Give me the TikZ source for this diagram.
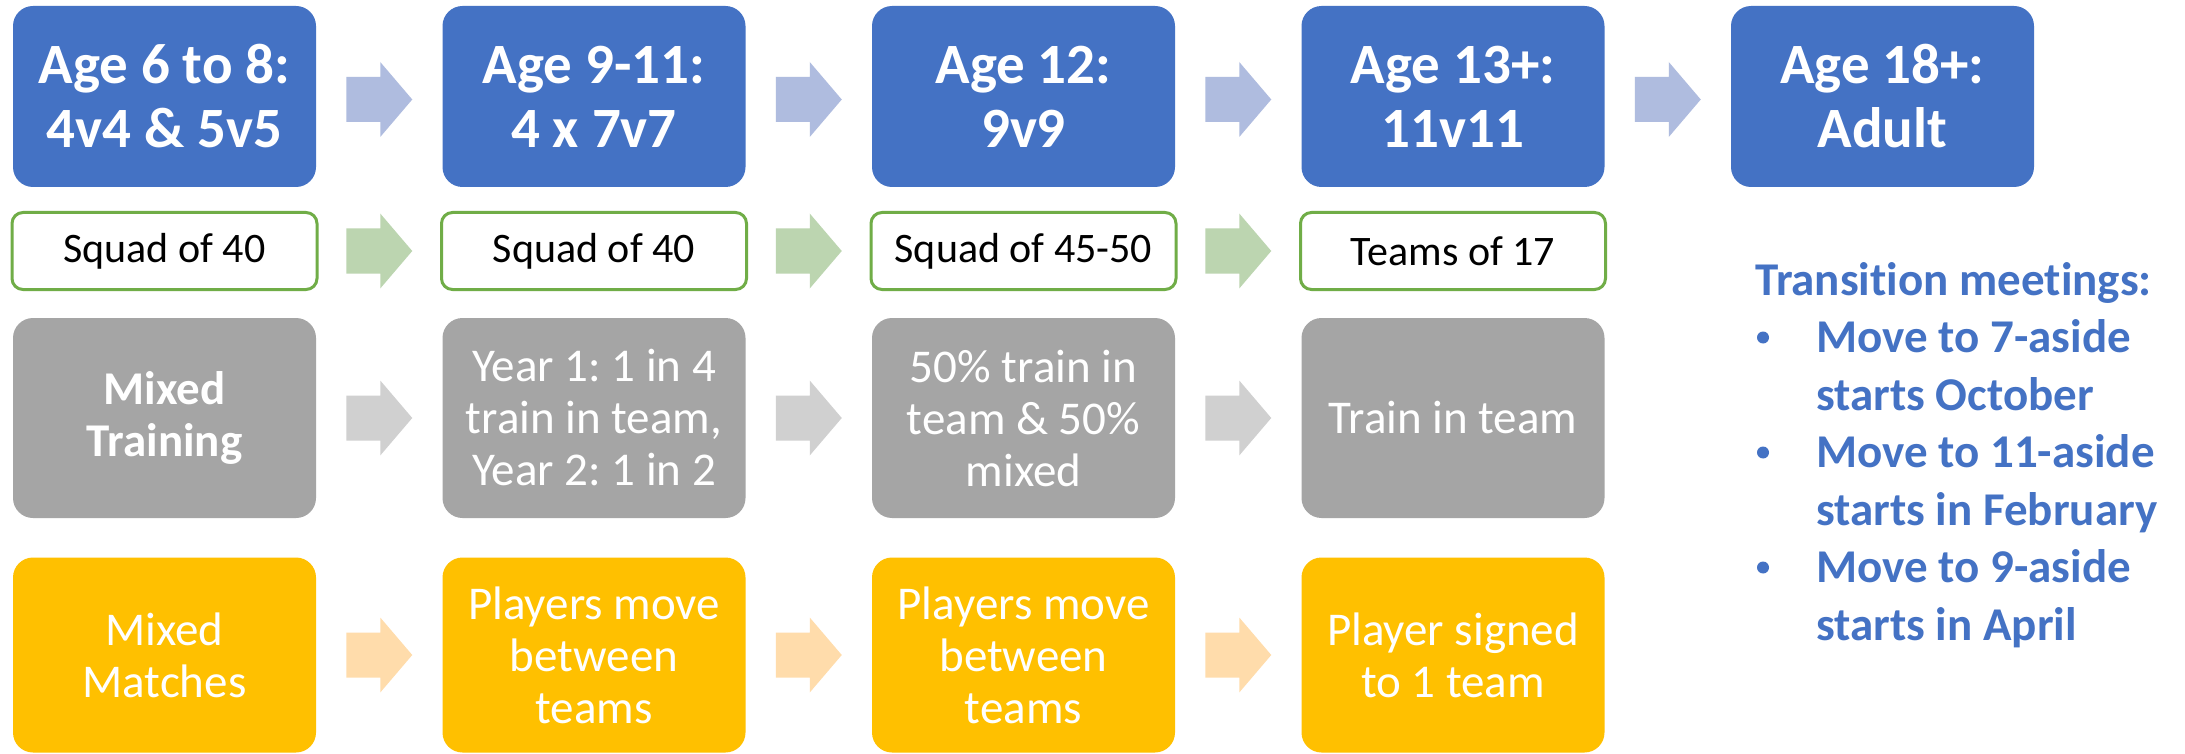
\documentclass[tikz,border=0pt]{standalone}
\usepackage{fontspec}
\setmainfont{Carlito}[Ligatures=NoCommon]
\usetikzlibrary{calc}
\frenchspacing

\definecolor{ageblue}{HTML}{4472C4}
\definecolor{agearrow}{HTML}{AFBCDF}
\definecolor{squadgreen}{HTML}{70AD47}
\definecolor{squadarrow}{HTML}{BCD5B0}
\definecolor{traingrey}{HTML}{A5A5A5}
\definecolor{trainarrow}{HTML}{D0D0D0}
\definecolor{matchgold}{HTML}{FFC000}
\definecolor{matcharrow}{HTML}{FFDCAB}

\tikzset{
  agebox/.style={rectangle, rounded corners=20pt, fill=ageblue, text=white,
    minimum width=303pt, minimum height=181pt, inner sep=0pt, align=center,
    font=\fontsize{57}{64}\selectfont\bfseries},
  squadbox/.style={rectangle, rounded corners=11pt, draw=squadgreen, line width=3pt,
    fill=white, text=black, minimum width=305pt, minimum height=77pt, inner sep=0pt,
    align=center, font=\fontsize{42}{50}\selectfont},
  trainbox/.style={rectangle, rounded corners=20pt, fill=traingrey, text=white,
    minimum width=303pt, minimum height=200pt, inner sep=0pt, align=center,
    font=\fontsize{47}{52}\selectfont},
  matchbox/.style={rectangle, rounded corners=20pt, fill=matchgold, text=white,
    minimum width=303pt, minimum height=195pt, inner sep=0pt, align=center,
    font=\fontsize{47}{52}\selectfont},
  noteline/.style={anchor=base west, inner sep=0pt, text=ageblue,
    font=\fontsize{47}{57}\selectfont\bfseries},
  notebullet/.style={circle, fill=ageblue, inner sep=0pt, minimum size=12pt},
}

% block arrow centred in the gap between two boxes
\newcommand{\gaparrow}[4][0]{%
  \fill[#4] ($(#2.east)!.5!(#3.west)$) ++(-33,{#1-22.5}) -- ++(34,0) -- ++(0,-15)
    -- ++(32,37.5) -- ++(-32,37.5) -- ++(0,-15) -- ++(-34,0) -- cycle;}

\begin{document}
\begin{tikzpicture}[x=1pt, y=-1pt]
\useasboundingbox[fill=white] (0,0) rectangle (2185,754);

% age groups
\node[agebox] (a1) at (164.5,96.5) {Age 6 to 8:\\4v4 \& 5v5};
\node[agebox] (a2) at (594,96.5) {Age 9-11:\\4 x 7v7};
\node[agebox] (a3) at (1023.5,96.5) {Age 12:\\9v9};
\node[agebox] (a4) at (1453,96.5) {Age 13+:\\11v11};
\node[agebox] (a5) at (1882.5,96.5) {Age 18+:\\Adult};

% squad sizes
\node[squadbox] (s1) at (164.5,251) {Squad of 40};
\node[squadbox] (s2) at (594,251) {Squad of 40};
\node[squadbox] (s3) at (1023.5,251) {Squad of 45-50};
\node[squadbox] (s4) at (1453,251) {Teams of 17};

% training
\node[trainbox, font=\fontsize{47}{52}\selectfont\bfseries] (t1) at (164.5,418) {Mixed\\Training};
\node[trainbox] (t2) at (594,418) {Year 1: 1 in 4\\train in team,\\Year 2: 1 in 2};
\node[trainbox] (t3) at (1023.5,418) {50\% train in\\team \& 50\%\\mixed};
\node[trainbox] (t4) at (1453,418) {Train in team};

% matches
\node[matchbox] (m1) at (164.5,655) {Mixed\\Matches};
\node[matchbox] (m2) at (594,655) {Players move\\between\\teams};
\node[matchbox] (m3) at (1023.5,655) {Players move\\between\\teams};
\node[matchbox] (m4) at (1453,655) {Player signed\\to 1 team};

% progression arrows
\gaparrow[3]{a1}{a2}{agearrow}
\gaparrow[3]{a2}{a3}{agearrow}
\gaparrow[3]{a3}{a4}{agearrow}
\gaparrow[3]{a4}{a5}{agearrow}
\gaparrow{s1}{s2}{squadarrow}
\gaparrow{s2}{s3}{squadarrow}
\gaparrow{s3}{s4}{squadarrow}
\gaparrow{t1}{t2}{trainarrow}
\gaparrow{t2}{t3}{trainarrow}
\gaparrow{t3}{t4}{trainarrow}
\gaparrow{m1}{m2}{matcharrow}
\gaparrow{m2}{m3}{matcharrow}
\gaparrow{m3}{m4}{matcharrow}

% transition meetings
\node[noteline] (n0) at (1755,295) {Transition meetings:};
\node[notebullet] (b1) at (1763,337.5) {};
\node[noteline] (n1) at (1816,352.5) {Move to 7-aside};
\node[noteline] (n2) at (1816,410) {starts October};
\node[notebullet] (b2) at (1763,452.5) {};
\node[noteline] (n3) at (1816,467.5) {Move to 11-aside};
\node[noteline] (n4) at (1816,525) {starts in February};
\node[notebullet] (b3) at (1763,567.5) {};
\node[noteline] (n5) at (1816,582.5) {Move to 9-aside};
\node[noteline] (n6) at (1816,640) {starts in April};
\end{tikzpicture}
\end{document}
